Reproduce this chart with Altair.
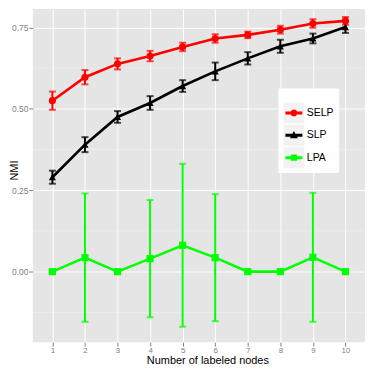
import altair as alt
import pandas as pd

nodes = list(range(1, 11))
series_names = ["SELP", "SLP", "LPA"]
series_colors = ["#FF0000", "#000000", "#00FF00"]
series_shapes = ["circle", "triangle-up", "square"]

selp_mean = [0.525, 0.597, 0.638, 0.662, 0.690, 0.716, 0.727, 0.743, 0.762, 0.770]
selp_err = [0.028, 0.022, 0.017, 0.016, 0.013, 0.013, 0.010, 0.012, 0.013, 0.012]
slp_mean = [0.290, 0.390, 0.475, 0.518, 0.570, 0.615, 0.655, 0.692, 0.716, 0.751]
slp_err = [0.020, 0.023, 0.018, 0.021, 0.018, 0.027, 0.019, 0.020, 0.015, 0.018]
lpa_mean = [0.0, 0.043, 0.0, 0.040, 0.081, 0.043, 0.0, 0.0, 0.044, 0.0]
lpa_err = [0.0, 0.197, 0.0, 0.180, 0.250, 0.195, 0.0, 0.0, 0.198, 0.0]

y_ticks = [0.0, 0.25, 0.50, 0.75]
y_minor = [-0.125, 0.125, 0.375, 0.625]

rows = []
for name, means, errs in [("SELP", selp_mean, selp_err), ("SLP", slp_mean, slp_err), ("LPA", lpa_mean, lpa_err)]:
    for x, m, e in zip(nodes, means, errs):
        rows.append({"series": name, "nodes": x, "nmi": m, "lo": m - e, "hi": m + e})
df = pd.DataFrame(rows)
minor_df = pd.DataFrame({"v": y_minor})

FONT = "Liberation Sans"
x_scale = alt.Scale(domain=[0.4, 10.6], nice=False, zero=False)
y_scale = alt.Scale(domain=[-0.2164, 0.8065], nice=False, zero=False)

x_axis = alt.Axis(values=nodes, format="d", grid=True, gridColor="white", gridWidth=1,
                  domain=False, tickColor="#7F7F7F", tickSize=4, labelColor="#7F7F7F",
                  labelFontSize=8, labelFont=FONT, labelPadding=0.5, labelFlush=False,
                  title="Number of labeled nodes", titleFont=FONT, titleFontSize=11,
                  titleFontWeight="normal", titleColor="black", titleX=175.5, titleY=21.5,
                  titleBaseline="alphabetic", titleAlign="center")
y_axis = alt.Axis(values=y_ticks, format=".2f", grid=True, gridColor="white", gridWidth=1,
                  domain=False, tickColor="#7F7F7F", tickSize=4, labelColor="#7F7F7F",
                  labelFontSize=8.5, labelFont=FONT, labelPadding=1, labelFlush=False,
                  title="NMI", titleFont=FONT, titleFontSize=11, titleFontWeight="normal",
                  titleColor="black", titleAngle=270, titleX=-15.5, titleY=162,
                  titleBaseline="alphabetic", titleAlign="center")

X = alt.X("nodes:Q", scale=x_scale, axis=x_axis)
Y_nmi = alt.Y("nmi:Q", scale=y_scale, axis=y_axis)

def color_enc(legend=None):
    return alt.Color("series:N", scale=alt.Scale(domain=series_names, range=series_colors), legend=legend)

base = alt.Chart(df)

minor = alt.Chart(minor_df).mark_rule(color="#F2F2F2", strokeWidth=0.5).encode(
    y=alt.Y("v:Q", scale=y_scale, axis=y_axis))

lines = base.mark_line(strokeWidth=2.6).encode(
    x=X, y=Y_nmi, color=color_enc(), detail="series:N")

rules = base.mark_rule(strokeWidth=2).encode(
    x=X, y=alt.Y("lo:Q", scale=y_scale, axis=y_axis), y2="hi:Q", color=color_enc())

caps = base.transform_fold(["lo", "hi"], as_=["end", "cap"]).mark_tick(
    orient="horizontal", size=7, thickness=2).encode(
    x=X, y=alt.Y("cap:Q", scale=y_scale, axis=y_axis), color=color_enc())

points = base.mark_point(filled=True, size=52, opacity=1).encode(
    x=X, y=Y_nmi, color=color_enc(),
    shape=alt.Shape("series:N", scale=alt.Scale(domain=series_names, range=series_shapes), legend=None))

LEG_X, LEG_Y = 247, 80
common_leg = dict(title=" ", orient="none", legendX=LEG_X, legendY=LEG_Y, padding=5,
                  titleFontSize=6, titlePadding=3, labelFontSize=10.5, labelFont=FONT,
                  symbolStrokeWidth=0, symbolOpacity=1, rowPadding=1.5, labelOffset=2.5)

# legend key backgrounds (grey squares) drawn first, with invisible labels
bg_leg = alt.Legend(fillColor="white", labelColor="transparent", symbolType="square",
                    symbolFillColor="#F2F2F2", **common_leg)
bg_layer = base.mark_point(filled=True, opacity=0, color="#F2F2F2", shape="square").encode(
    x=X, y=Y_nmi,
    size=alt.Size("series:N", scale=alt.Scale(domain=series_names, range=[441, 441, 441]), legend=bg_leg))

# line + marker legend keys; the M-1,-1 M1,1 moves make every key span the full 21px box
key_box = "M-1,-1M1,1"
key_line = "M-0.81,-0.143H0.81V0.143H-0.81Z"
legend_paths = [
    key_box + key_line + "M0.33,0A0.33,0.33,0,1,1,-0.33,0A0.33,0.33,0,1,1,0.33,0Z",
    key_box + key_line + "M0,-0.4L0.38,0.28L-0.38,0.28Z",
    key_box + key_line + "M-0.3,-0.3H0.3V0.3H-0.3Z",
]
leg = alt.Legend(labelColor="black", symbolSize=441, **common_leg)
legend_layer = base.mark_point(filled=True, opacity=0).encode(
    x=X, y=Y_nmi, color=color_enc(leg),
    shape=alt.Shape("series:N", scale=alt.Scale(domain=series_names, range=legend_paths), legend=leg))

chart = alt.layer(minor, lines, rules, caps, points, bg_layer, legend_layer).resolve_scale(
    color="independent", shape="independent", size="independent").properties(
    width=334, height=335, padding=0).configure(font=FONT).configure_view(
    fill="#E5E5E5", stroke=None)

chart.save("out.html", embed_options={"renderer": "svg", "actions": False})
